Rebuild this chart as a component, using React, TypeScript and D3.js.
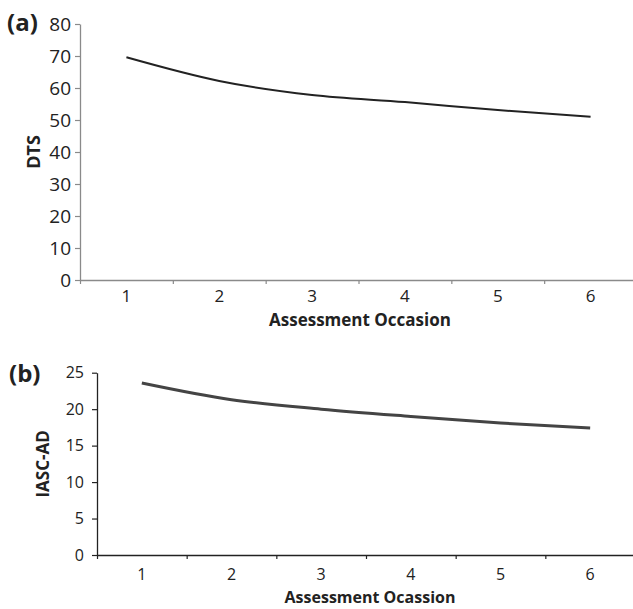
import React, { useEffect, useRef } from 'react';
import * as d3 from 'd3';

// Assessment occasions (x categories)
const occasions = [1, 2, 3, 4, 5, 6];

// Panel (a): DTS means per occasion
const dtsValues = [69.6, 62.2, 57.8, 55.6, 53.1, 51.0];
const dtsTicks = [0, 10, 20, 30, 40, 50, 60, 70, 80];

// Panel (b): IASC-AD means per occasion
const iascValues = [23.6, 21.3, 20.0, 19.0, 18.1, 17.4];
const iascTicks = [0, 5, 10, 15, 20, 25];

const FONT = '"Open Sans", "Liberation Sans", sans-serif';

const App = () => {
  const ref = useRef<SVGSVGElement | null>(null);

  useEffect(() => {
    document.body.style.margin = '0';
    const svg = d3.select(ref.current);
    svg.selectAll('*').remove();

    const drawPanel = (opts: any) => {
      const { values, ticks, yMax, x0, x1, yTop, yBottom, tickFont, tickGap, catFont,
        axisColor, lineColor, lineWidth, tag, tagX, tagY, yLabel, yLabelX, yLabelFont,
        xTitle, xTitleX, xTitleY, xTitleFont, catY } = opts;

      const x = d3.scaleLinear().domain([0.5, 6.5]).range([x0, x1]);
      const y = d3.scaleLinear().domain([0, yMax]).range([yBottom, yTop]);

      const g = svg.append('g');

      // y axis
      const yAxis = g.append('g')
        .attr('transform', `translate(${x0},0)`)
        .call(d3.axisLeft(y).tickValues(ticks).tickSize(5).tickSizeOuter(0));
      yAxis.select('.domain').attr('stroke', axisColor).attr('stroke-width', 1.3);
      yAxis.selectAll('line').attr('stroke', axisColor).attr('stroke-width', 1.2);
      yAxis.selectAll('text')
        .attr('font-family', FONT)
        .attr('font-size', tickFont)
        .attr('fill', '#222')
        .attr('x', -tickGap);

      // x axis with ticks at category boundaries
      const xAxis = g.append('g')
        .attr('transform', `translate(0,${yBottom})`)
        .call(d3.axisBottom(x)
          .tickValues(d3.range(0.5, 7, 1))
          .tickSize(4)
          .tickSizeOuter(0)
          .tickFormat(() => ''));
      xAxis.select('.domain').attr('stroke', axisColor).attr('stroke-width', 1.6);
      xAxis.selectAll('line').attr('stroke', axisColor).attr('stroke-width', 1.2);

      // category labels
      g.selectAll('.cat')
        .data(occasions)
        .enter()
        .append('text')
        .attr('x', d => x(d))
        .attr('y', catY)
        .attr('text-anchor', 'middle')
        .attr('font-family', FONT)
        .attr('font-size', catFont)
        .attr('fill', '#222')
        .text(d => d);

      // line
      const line = d3.line<number>()
        .x((d, i) => x(occasions[i]))
        .y(d => y(d))
        .curve(d3.curveMonotoneX);

      g.append('path')
        .datum(values)
        .attr('d', line)
        .attr('fill', 'none')
        .attr('stroke', lineColor)
        .attr('stroke-width', lineWidth);

      // panel tag
      g.append('text')
        .attr('x', tagX)
        .attr('y', tagY)
        .attr('font-family', FONT)
        .attr('font-weight', 'bold')
        .attr('font-size', 24)
        .attr('fill', '#222')
        .text(tag);

      // y title
      g.append('text')
        .attr('transform', `translate(${yLabelX},${(yTop + yBottom) / 2}) rotate(-90)`)
        .attr('text-anchor', 'middle')
        .attr('font-family', FONT)
        .attr('font-weight', 'bold')
        .attr('font-size', yLabelFont)
        .attr('fill', '#222')
        .text(yLabel);

      // x title
      g.append('text')
        .attr('x', xTitleX)
        .attr('y', xTitleY)
        .attr('text-anchor', 'middle')
        .attr('font-family', FONT)
        .attr('font-weight', 'bold')
        .attr('font-size', xTitleFont)
        .attr('fill', '#222')
        .text(xTitle);
    };

    drawPanel({
      values: dtsValues, ticks: dtsTicks, yMax: 80,
      x0: 80, x1: 637, yTop: 24, yBottom: 280,
      tickFont: 19, tickGap: 9, catFont: 17,
      axisColor: '#8a8a8a', lineColor: '#222', lineWidth: 2,
      tag: '(a)', tagX: 7, tagY: 31,
      yLabel: 'DTS', yLabelX: 40, yLabelFont: 18,
      xTitle: 'Assessment Occasion', xTitleX: 360, xTitleY: 326, xTitleFont: 17, catY: 302,
    });

    drawPanel({
      values: iascValues, ticks: iascTicks, yMax: 25,
      x0: 97, x1: 635, yTop: 372.7, yBottom: 555,
      tickFont: 16, tickGap: 13, catFont: 16,
      axisColor: '#222', lineColor: '#444', lineWidth: 3,
      tag: '(b)', tagX: 9, tagY: 382,
      yLabel: 'IASC-AD', yLabelX: 49, yLabelFont: 17,
      xTitle: 'Assessment Ocassion', xTitleX: 370, xTitleY: 603, xTitleFont: 16, catY: 580,
    });
  }, []);

  return <svg ref={ref} width={633} height={609} style={{ display: 'block', background: '#fff' }} />;
};

export default App;
